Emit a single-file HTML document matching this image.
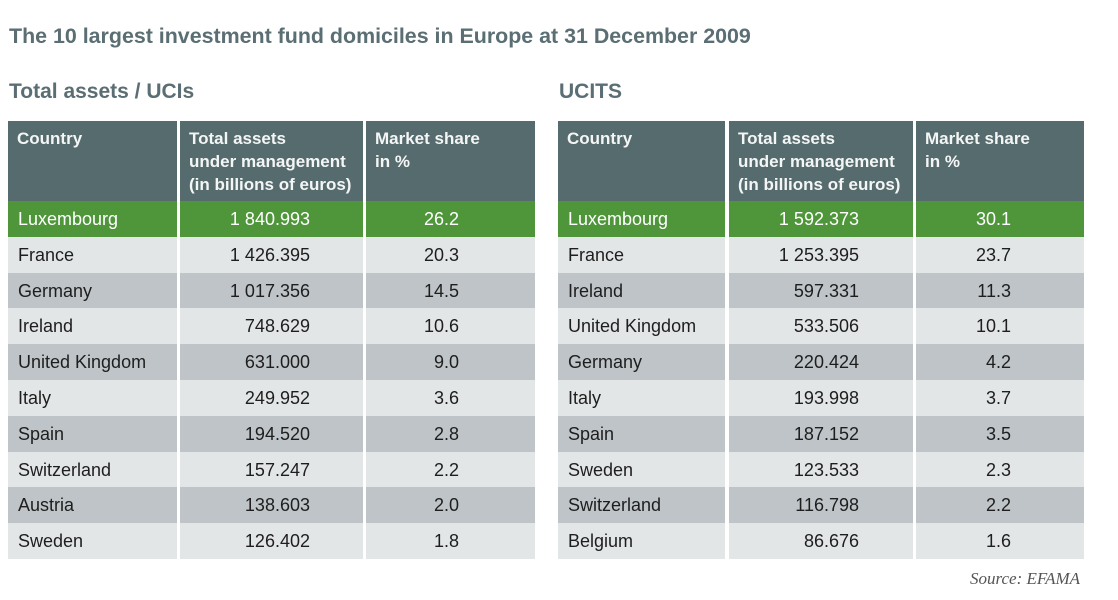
<!DOCTYPE html>
<html><head><meta charset="utf-8"><style>
body{margin:0;width:1118px;height:600px;background:#fff;font-family:"Liberation Sans",Arial,sans-serif;position:relative;overflow:hidden}
.t{position:absolute;color:#5a6e73;font-weight:bold}
.cell{position:absolute;box-sizing:border-box;font-size:18px;color:#1e1e1e;line-height:36px;white-space:nowrap}
.hd{background:#566b6e;color:#f4f6f6;font-weight:bold;font-size:17px;line-height:23px;padding:6px 9px}
.g{background:#4f963b;color:#fff}
.l{background:#e3e6e7}
.d{background:#bec4c7}
.src{position:absolute;right:38px;top:569px;font-family:"Liberation Serif",serif;font-style:italic;font-size:17px;color:#555}
</style></head><body>
<div class="t" style="left:9px;top:24px;font-size:21.4px">The 10 largest investment fund domiciles in Europe at 31 December 2009</div>
<div class="t" style="left:9px;top:80px;font-size:21px">Total assets / UCIs</div>
<div class="t" style="left:559px;top:80px;font-size:21px">UCITS</div>
<div id="tables"></div>
<div class="src">Source: EFAMA</div>
<script>
const leftCountries=["Luxembourg","France","Germany","Ireland","United Kingdom","Italy","Spain","Switzerland","Austria","Sweden"];
const leftAssets=["1 840.993","1 426.395","1 017.356","748.629","631.000","249.952","194.520","157.247","138.603","126.402"];
const leftShare=["26.2","20.3","14.5","10.6","9.0","3.6","2.8","2.2","2.0","1.8"];
const rightCountries=["Luxembourg","France","Ireland","United Kingdom","Germany","Italy","Spain","Sweden","Switzerland","Belgium"];
const rightAssets=["1 592.373","1 253.395","597.331","533.506","220.424","193.998","187.152","123.533","116.798","86.676"];
const rightShare=["30.1","23.7","11.3","10.1","4.2","3.7","3.5","2.3","2.2","1.6"];
const root=document.getElementById('tables');
function mk(x,y,w,h,cls,html,name,align,pad){
  const d=document.createElement('div');
  d.className='cell '+cls;
  d.style.left=x+'px';d.style.top=y+'px';d.style.width=w+'px';d.style.height=h+'px';
  if(align==='right'){d.style.textAlign='right';d.style.paddingRight=pad+'px';}
  else if(!cls.includes('hd')) d.style.paddingLeft='10px';
  d.innerHTML=html;
  
  
  root.appendChild(d);
}
function table(x0,cols,countries,assets,share,prefix){
  const hdr=["Country","Total assets<br>under management<br>(in billions of euros)","Market share<br>in %"];
  cols.forEach((c,i)=>mk(c[0],121,c[1],80,'hd',hdr[i],prefix+'-header-'+i));
  const rh=35.8;
  countries.forEach((cn,r)=>{
    const y=Math.round(201+r*rh), h=Math.round(201+(r+1)*rh)-y;
    const cls=r===0?'g':(r%2?'l':'d');
    mk(cols[0][0],y,cols[0][1],h,cls,cn,prefix+'-country-'+r);
    mk(cols[1][0],y,cols[1][1],h,cls,assets[r],prefix+'-assets-'+r,'right',cols[1][2]);
    mk(cols[2][0],y,cols[2][1],h,cls,share[r],prefix+'-share-'+r,'right',cols[2][2]);
  });
}
table(8,[[8,169],[180,183,53],[366,169,76]],leftCountries,leftAssets,leftShare,'left');
table(558,[[558,167],[729,184,54],[916,168,73]],rightCountries,rightAssets,rightShare,'right');
</script>
</body></html>
